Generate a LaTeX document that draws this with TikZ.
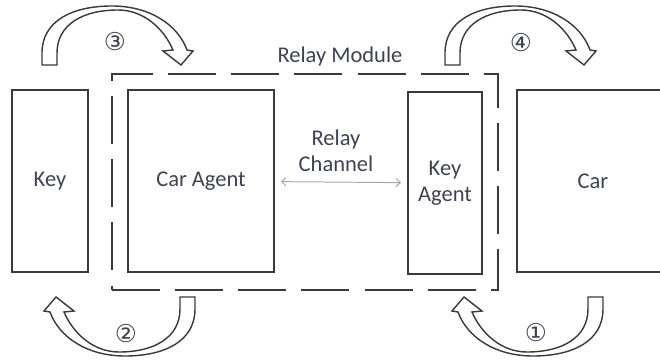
\documentclass[tikz,border=0pt]{standalone}
\usepackage{fontspec}
\setmainfont{Carlito}
\newfontfamily\circfont{DejaVu Sans}
\usetikzlibrary{arrows.meta,fit}
\definecolor{edge}{HTML}{3A3A3A}
\definecolor{ink}{HTML}{3F4350}
\tikzset{
  bendarrow/.pic={
    \draw[blockarrow] (0,0) -- (0,-12)
      .. controls (0,-44) and (30,-59) .. (70,-59)
      .. controls (108,-59) and (136,-40) .. (145,-15)
      -- (151,-14) -- (139,0) -- (121,-14) -- (131,-15)
      .. controls (122,-36) and (102,-55) .. (76,-55)
      .. controls (40,-55) and (15,-40) .. (15,-12)
      -- (15,0) -- cycle;
  }
}
\begin{document}
\begin{tikzpicture}[x=0.025cm,y=-0.025cm]
    \tikzstyle{every node}=[font=\fontsize{16}{18.5}\selectfont,text=ink,align=center]
    \tikzstyle{box}=[draw=edge,line width=1.4pt,minimum height=4.55cm,inner sep=0pt]
    \tikzstyle{module}=[draw=edge,line width=1.4pt,dash pattern=on 1.2cm off 0.38cm,inner sep=0.38cm]
    \tikzstyle{blockarrow}=[draw=edge,fill=white,line width=1pt,line join=miter]
    \tikzstyle{chan}=[{Straight Barb[length=3pt]}-{Straight Barb[length=3pt]},draw=gray!70,line width=0.7pt,shorten <=0.15cm,shorten >=0.15cm]
    \tikzstyle{num}=[font=\circfont\fontsize{17.5}{18}\selectfont,inner sep=0pt]
    \path[use as bounding box] (0,0) rectangle (660,361);
    \clip (0,0) rectangle (660,361);
    \node[box,minimum width=1.9cm] (key) at (50,181) {Key};
    \node[box,minimum width=3.65cm] (caragent) at (201,181) {Car Agent};
    \node[box,minimum width=1.85cm] (keyagent) at (445,183) {Key\\Agent};
    \node[box,minimum width=3.8cm] (car) at (593,181) {Car};
    \node[module,fit=(caragent)(keyagent)] (relay) {};
    \node (modlabel) at (340,57) {Relay Module};
    %%%%%
    \draw[chan] (caragent) -- (keyagent);
    \node (chanlabel) at (336,151) {Relay\\Channel};
    %%%%%
    \pic at (42,65) {bendarrow};
    \pic at (445,65) {bendarrow};
    \pic[rotate=180] at (195,297) {bendarrow};
    \pic[rotate=180] at (603,297) {bendarrow};
    \node[num] (s3) at (115,42) {③};
    \node[num] (s4) at (521,43) {④};
    \node[num] (s2) at (126,334) {②};
    \node[num] (s1) at (536,333) {①};
\end{tikzpicture}
\end{document}
